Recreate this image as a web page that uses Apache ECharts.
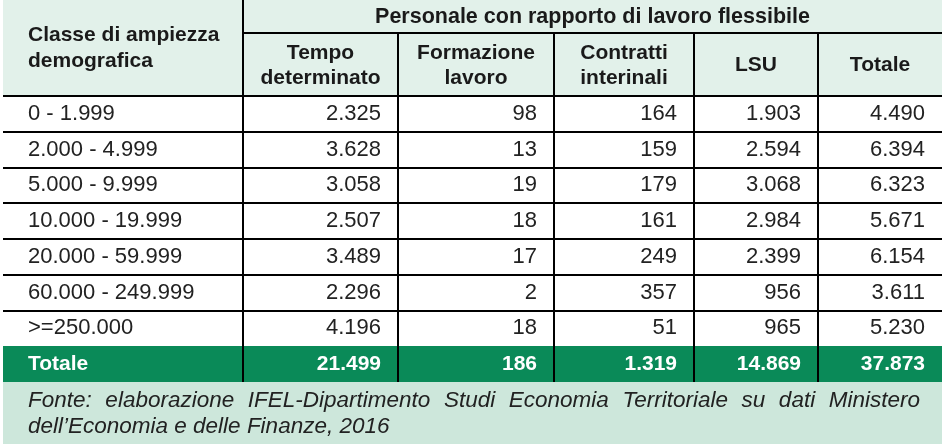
<!DOCTYPE html>
<html>
<head>
<meta charset="utf-8">
<script src="https://cdn.jsdelivr.net/npm/echarts@6/dist/echarts.min.js"></script>
<style>
  html, body { margin: 0; padding: 0; background: #fff; }
  #chart { width: 943px; height: 444px; }
</style>
</head>
<body>
<div id="chart"></div>
<script>
// dati della tabella
const titolo = 'Personale con rapporto di lavoro flessibile';
const intestazioni = ['Classe di ampiezza\ndemografica', 'Tempo\ndeterminato', 'Formazione\nlavoro', 'Contratti\ninterinali', 'LSU', 'Totale'];
const classi = ['0 - 1.999', '2.000 - 4.999', '5.000 - 9.999', '10.000 - 19.999', '20.000 - 59.999', '60.000 - 249.999', '>=250.000'];
const tempoDeterminato = [2325, 3628, 3058, 2507, 3489, 2296, 4196];
const formazioneLavoro = [98, 13, 19, 18, 17, 2, 18];
const contrattiInterinali = [164, 159, 179, 161, 249, 357, 51];
const lsu = [1903, 2594, 3068, 2984, 2399, 956, 965];
const totale = [4490, 6394, 6323, 5671, 6154, 3611, 5230];
const totali = [21499, 186, 1319, 14869, 37873];
const fonte = [
  'Fonte: elaborazione IFEL-Dipartimento Studi Economia Territoriale su dati Ministero',
  'dell\u2019Economia e delle Finanze, 2016'
];

// layout
const colonne = [3, 243, 398, 554, 694, 818, 942];
const TOP_SUB = 33, BODY_TOP = 96, BODY_BOTTOM = 382, H = 444;
const FONT = '"Liberation Sans", Arial, Helvetica, sans-serif';
const VERDE = '#0a8a58', MENTA = '#e2f1ea', MENTA_SCURO = '#cde7db';
const LINEA = { stroke: '#000', lineWidth: 2 };

const fmt = n => String(n).replace(/\B(?=(\d{3})+(?!\d))/g, '.');
const serie = [tempoDeterminato, formazioneLavoro, contrattiInterinali, lsu, totale];
const righe = classi.concat(['Totale']);
const dati = righe.map((_, i) => [0, i].concat(i < classi.length ? serie.map(s => s[i]) : totali));

const chart = echarts.init(document.getElementById('chart'));

chart.setOption({
  animation: false,
  grid: { left: 0, right: 0, top: BODY_TOP, bottom: H - BODY_BOTTOM, outerBoundsMode: 'none' },
  xAxis: { type: 'value', min: 0, max: 943, show: false },
  yAxis: { type: 'category', data: righe, inverse: true, show: false },
  series: [{
    type: 'custom',
    encode: { x: 0, y: 1 },
    data: dati,
    renderItem: function (params, api) {
      const i = api.value(1);
      const c = api.coord([0, i]);
      const h = api.size([0, 1])[1];
      const top = Math.round(c[1] - h / 2);
      const bottom = Math.round(c[1] + h / 2);
      const mid = c[1];
      const xs = colonne.map(v => Math.round(api.coord([v, i])[0]));
      const isTot = i === classi.length;
      const children = [];
      if (isTot) {
        children.push({ type: 'rect', shape: { x: xs[0], y: top, width: xs[6] - xs[0], height: bottom - top }, style: { fill: VERDE } });
      }
      if (i < classi.length - 1) {
        children.push({ type: 'line', shape: { x1: xs[0], y1: bottom, x2: xs[6], y2: bottom }, style: LINEA });
      }
      for (let k = 1; k <= 5; k++) {
        children.push({ type: 'line', shape: { x1: xs[k], y1: top, x2: xs[k], y2: bottom }, style: LINEA });
      }
      const testo = {
        fill: isTot ? '#fff' : '#222',
        fontFamily: FONT,
        fontSize: isTot ? 21 : 22,
        fontWeight: isTot ? 'bold' : 'normal',
        verticalAlign: 'middle'
      };
      children.push({ type: 'text', x: xs[0] + 25, y: mid, style: Object.assign({ text: righe[i], align: 'left' }, testo) });
      for (let k = 0; k < 5; k++) {
        children.push({
          type: 'text', x: xs[k + 2] - 17, y: mid,
          style: Object.assign({ text: fmt(api.value(k + 2)), align: 'right' }, testo)
        });
      }
      return { type: 'group', children: children };
    }
  }]
});

// intestazione e fonte
const px = v => chart.convertToPixel({ xAxisIndex: 0 }, v);
const cx = colonne.map(px);
const grafica = [];
grafica.push({ type: 'rect', shape: { x: cx[0], y: 0, width: cx[6] - cx[0], height: BODY_TOP }, style: { fill: MENTA } });
grafica.push({ type: 'rect', shape: { x: cx[0], y: BODY_BOTTOM, width: cx[6] - cx[0], height: H - BODY_BOTTOM }, style: { fill: MENTA_SCURO } });
grafica.push({ type: 'line', shape: { x1: cx[0], y1: BODY_TOP, x2: cx[6], y2: BODY_TOP }, style: LINEA });
grafica.push({ type: 'line', shape: { x1: cx[1], y1: TOP_SUB, x2: cx[6], y2: TOP_SUB }, style: LINEA });
grafica.push({ type: 'line', shape: { x1: cx[1], y1: 0, x2: cx[1], y2: BODY_TOP }, style: LINEA });
for (let k = 2; k <= 5; k++) {
  grafica.push({ type: 'line', shape: { x1: cx[k], y1: TOP_SUB, x2: cx[k], y2: BODY_TOP }, style: LINEA });
}
const testata = { fill: '#1a1a1a', fontFamily: FONT, fontWeight: 'bold', fontSize: 21, lineHeight: 25, verticalAlign: 'middle' };
grafica.push({ type: 'text', x: (cx[1] + cx[6]) / 2, y: 17, style: Object.assign({}, testata, { text: titolo, align: 'center', fontSize: 21.5 }) });
grafica.push({ type: 'text', x: cx[0] + 25, y: BODY_TOP / 2, style: Object.assign({}, testata, { text: intestazioni[0], align: 'left', lineHeight: 26 }) });
for (let k = 1; k < intestazioni.length; k++) {
  grafica.push({
    type: 'text', x: (cx[k] + cx[k + 1]) / 2, y: (TOP_SUB + BODY_TOP) / 2 + 1,
    style: Object.assign({}, testata, { text: intestazioni[k], align: 'center' })
  });
}

// prima riga della fonte giustificata
const fontFonte = 'italic 22.5px ' + FONT;
const ctx = document.createElement('canvas').getContext('2d');
ctx.font = fontFonte;
const stileFonte = { fill: '#222', font: fontFonte, verticalAlign: 'middle', align: 'left' };
const parole = fonte[0].split(' ');
const larghezze = parole.map(p => ctx.measureText(p).width);
const xInizio = cx[0] + 25, xFine = cx[6] - 22;
const spazio = Math.max(3, (xFine - xInizio - larghezze.reduce((a, b) => a + b, 0)) / (parole.length - 1));
let xp = xInizio;
parole.forEach((p, j) => {
  grafica.push({ type: 'text', x: xp, y: 401, style: Object.assign({}, stileFonte, { text: p }) });
  xp += larghezze[j] + spazio;
});
grafica.push({ type: 'text', x: xInizio, y: 427, style: Object.assign({}, stileFonte, { text: fonte[1] }) });

chart.setOption({ graphic: { elements: grafica } });
</script>
</body>
</html>
